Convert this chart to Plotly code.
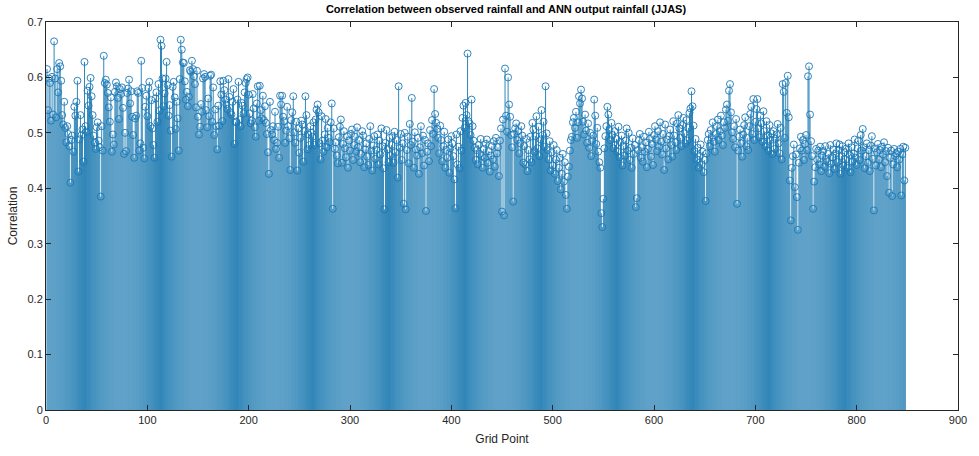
import plotly.graph_objects as go

title_text = "Correlation between observed rainfall and ANN output rainfall (JJAS)"
x_label = "Grid Point"
y_label = "Correlation"

x_ticks = [0, 100, 200, 300, 400, 500, 600, 700, 800, 900]
y_ticks = [0, 0.1, 0.2, 0.3, 0.4, 0.5, 0.6, 0.7]
y_tick_labels = ["0", "0.1", "0.2", "0.3", "0.4", "0.5", "0.6", "0.7"]

correlation = [
    0.615, 0.541, 0.598, 0.590, 0.522, 0.601, 0.533, 0.665, 0.598, 0.528, 0.615, 0.573, 0.626, 0.620, 0.594, 0.532, 0.515, 0.556, 0.509, 0.483,
    0.512, 0.498, 0.476, 0.410, 0.487, 0.495, 0.466, 0.547, 0.531, 0.556, 0.594, 0.430, 0.488, 0.532, 0.496, 0.506, 0.448, 0.628, 0.512, 0.502,
    0.576, 0.549, 0.583, 0.599, 0.566, 0.532, 0.495, 0.482, 0.471, 0.510, 0.519, 0.486, 0.474, 0.385, 0.512, 0.468, 0.639, 0.590, 0.596, 0.587,
    0.572, 0.546, 0.520, 0.564, 0.466, 0.497, 0.479, 0.574, 0.591, 0.584, 0.563, 0.525, 0.579, 0.570, 0.582, 0.545, 0.462, 0.500, 0.467, 0.572,
    0.580, 0.596, 0.553, 0.575, 0.529, 0.496, 0.455, 0.526, 0.531, 0.575, 0.572, 0.468, 0.481, 0.630, 0.581, 0.473, 0.454, 0.547, 0.567, 0.530,
    0.581, 0.592, 0.512, 0.559, 0.508, 0.478, 0.455, 0.562, 0.573, 0.520, 0.588, 0.540, 0.668, 0.657, 0.598, 0.548, 0.571, 0.598, 0.628, 0.586,
    0.531, 0.550, 0.504, 0.457, 0.583, 0.592, 0.564, 0.507, 0.556, 0.526, 0.468, 0.597, 0.668, 0.650, 0.627, 0.626, 0.593, 0.560, 0.574, 0.548,
    0.565, 0.613, 0.610, 0.630, 0.615, 0.602, 0.588, 0.546, 0.612, 0.529, 0.497, 0.511, 0.552, 0.538, 0.598, 0.606, 0.601, 0.541, 0.510, 0.562,
    0.530, 0.603, 0.605, 0.520, 0.582, 0.496, 0.542, 0.512, 0.470, 0.549, 0.513, 0.593, 0.569, 0.521, 0.594, 0.577, 0.560, 0.551, 0.543, 0.597,
    0.565, 0.537, 0.533, 0.556, 0.579, 0.480, 0.520, 0.519, 0.560, 0.592, 0.524, 0.512, 0.554, 0.549, 0.535, 0.573, 0.590, 0.597, 0.600, 0.569,
    0.535, 0.517, 0.522, 0.570, 0.544, 0.510, 0.493, 0.553, 0.584, 0.522, 0.585, 0.541, 0.526, 0.567, 0.523, 0.548, 0.518, 0.498, 0.465, 0.426,
    0.556, 0.505, 0.497, 0.512, 0.487, 0.538, 0.471, 0.482, 0.511, 0.455, 0.567, 0.551, 0.567, 0.529, 0.521, 0.482, 0.504, 0.547, 0.512, 0.490,
    0.433, 0.523, 0.537, 0.566, 0.501, 0.482, 0.520, 0.432, 0.508, 0.464, 0.491, 0.522, 0.515, 0.448, 0.503, 0.566, 0.532, 0.470, 0.497, 0.478,
    0.512, 0.500, 0.493, 0.519, 0.478, 0.524, 0.542, 0.551, 0.537, 0.481, 0.452, 0.530, 0.486, 0.466, 0.497, 0.525, 0.474, 0.509, 0.491, 0.483,
    0.519, 0.553, 0.363, 0.508, 0.471, 0.483, 0.459, 0.445, 0.492, 0.511, 0.524, 0.446, 0.480, 0.503, 0.472, 0.456, 0.494, 0.437, 0.486, 0.468,
    0.498, 0.506, 0.451, 0.478, 0.493, 0.466, 0.510, 0.474, 0.487, 0.447, 0.462, 0.503, 0.495, 0.438, 0.470, 0.481, 0.457, 0.442, 0.489, 0.512,
    0.468, 0.432, 0.477, 0.494, 0.453, 0.469, 0.497, 0.443, 0.486, 0.461, 0.508, 0.476, 0.436, 0.362, 0.482, 0.505, 0.470, 0.447, 0.491, 0.459,
    0.478, 0.494, 0.446, 0.502, 0.465, 0.487, 0.419, 0.584, 0.473, 0.498, 0.451, 0.481, 0.372, 0.500, 0.362, 0.469, 0.493, 0.445, 0.516, 0.478,
    0.563, 0.484, 0.437, 0.501, 0.470, 0.459, 0.491, 0.426, 0.474, 0.512, 0.463, 0.495, 0.441, 0.487, 0.359, 0.466, 0.481, 0.449, 0.505, 0.476,
    0.523, 0.498, 0.579, 0.534, 0.518, 0.507, 0.491, 0.463, 0.513, 0.487, 0.449, 0.476, 0.502, 0.437, 0.469, 0.455, 0.488, 0.428, 0.472, 0.494,
    0.481, 0.458, 0.416, 0.364, 0.497, 0.443, 0.475, 0.436, 0.503, 0.468, 0.527, 0.549, 0.509, 0.554, 0.532, 0.643, 0.521, 0.517, 0.496, 0.560,
    0.512, 0.486, 0.473, 0.451, 0.469, 0.443, 0.478, 0.462, 0.489, 0.458, 0.437, 0.471, 0.455, 0.480, 0.488, 0.446, 0.467, 0.430, 0.459, 0.476,
    0.452, 0.485, 0.439, 0.491, 0.463, 0.474, 0.422, 0.486, 0.508, 0.358, 0.524, 0.351, 0.616, 0.531, 0.502, 0.600, 0.551, 0.529, 0.496, 0.474,
    0.376, 0.498, 0.508, 0.517, 0.487, 0.503, 0.463, 0.481, 0.512, 0.495, 0.446, 0.476, 0.443, 0.489, 0.431, 0.469, 0.452, 0.493, 0.447, 0.518,
    0.506, 0.466, 0.494, 0.530, 0.472, 0.511, 0.458, 0.488, 0.541, 0.496, 0.520, 0.475, 0.584, 0.499, 0.469, 0.452, 0.485, 0.432, 0.465, 0.441,
    0.478, 0.426, 0.452, 0.469, 0.413, 0.437, 0.455, 0.398, 0.426, 0.462, 0.412, 0.447, 0.388, 0.363, 0.421, 0.439, 0.468, 0.487, 0.493, 0.519,
    0.527, 0.509, 0.538, 0.491, 0.519, 0.566, 0.553, 0.578, 0.562, 0.520, 0.497, 0.533, 0.504, 0.482, 0.517, 0.473, 0.500, 0.458, 0.486, 0.495,
    0.560, 0.531, 0.480, 0.509, 0.466, 0.447, 0.437, 0.355, 0.330, 0.381, 0.472, 0.494, 0.512, 0.547, 0.533, 0.505, 0.487, 0.518, 0.496, 0.472,
    0.503, 0.478, 0.489, 0.466, 0.511, 0.456, 0.483, 0.495, 0.441, 0.476, 0.459, 0.486, 0.508, 0.468, 0.500, 0.451, 0.473, 0.437, 0.490, 0.462,
    0.478, 0.366, 0.382, 0.469, 0.487, 0.498, 0.455, 0.474, 0.448, 0.493, 0.466, 0.483, 0.438, 0.471, 0.502, 0.489, 0.457, 0.480, 0.442, 0.496,
    0.512, 0.488, 0.467, 0.503, 0.475, 0.519, 0.484, 0.461, 0.498, 0.433, 0.515, 0.472, 0.488, 0.452, 0.494, 0.506, 0.478, 0.457, 0.521, 0.495,
    0.483, 0.469, 0.517, 0.532, 0.508, 0.491, 0.476, 0.514, 0.527, 0.499, 0.481, 0.523, 0.486, 0.509, 0.536, 0.544, 0.575, 0.548, 0.513, 0.467,
    0.489, 0.452, 0.473, 0.437, 0.458, 0.479, 0.443, 0.466, 0.429, 0.451, 0.377, 0.463, 0.487, 0.498, 0.476, 0.505, 0.491, 0.519, 0.484, 0.466,
    0.498, 0.512, 0.524, 0.487, 0.503, 0.531, 0.495, 0.478, 0.519, 0.509, 0.542, 0.551, 0.522, 0.576, 0.588, 0.537, 0.501, 0.489, 0.512, 0.474,
    0.525, 0.372, 0.468, 0.493, 0.506, 0.481, 0.457, 0.497, 0.514, 0.528, 0.476, 0.491, 0.469, 0.512, 0.534, 0.547, 0.498, 0.561, 0.487, 0.520,
    0.543, 0.561, 0.508, 0.492, 0.531, 0.517, 0.484, 0.539, 0.503, 0.476, 0.521, 0.495, 0.468, 0.514, 0.487, 0.499, 0.462, 0.503, 0.471, 0.489,
    0.497, 0.516, 0.481, 0.463, 0.509, 0.452, 0.588, 0.574, 0.491, 0.590, 0.536, 0.603, 0.528, 0.414, 0.342, 0.437, 0.458, 0.479, 0.402, 0.461,
    0.384, 0.325, 0.446, 0.472, 0.493, 0.468, 0.487, 0.451, 0.480, 0.496, 0.469, 0.602, 0.620, 0.533, 0.485, 0.458, 0.363, 0.412, 0.438, 0.471,
    0.452, 0.468, 0.443, 0.475, 0.431, 0.459, 0.467, 0.439, 0.476, 0.453, 0.448, 0.462, 0.427, 0.478, 0.444, 0.456, 0.470, 0.435, 0.462, 0.481,
    0.447, 0.469, 0.479, 0.426, 0.458, 0.476, 0.441, 0.465, 0.452, 0.472, 0.437, 0.481, 0.460, 0.429, 0.474, 0.448, 0.463, 0.488, 0.455, 0.442,
    0.472, 0.486, 0.451, 0.496, 0.468, 0.507, 0.474, 0.436, 0.458, 0.481, 0.446, 0.469, 0.431, 0.477, 0.494, 0.453, 0.360, 0.472, 0.441, 0.465,
    0.480, 0.452, 0.469, 0.438, 0.475, 0.461, 0.483, 0.447, 0.467, 0.422, 0.473, 0.392, 0.455, 0.468, 0.386, 0.443, 0.471, 0.458, 0.463, 0.438,
    0.466, 0.452, 0.471, 0.387, 0.461, 0.475, 0.414, 0.473,
]

grid_points = list(range(1, len(correlation) + 1))

stem_color = "#1a78b0"
marker_color = "#1a78b8"

# stems: one segment per point, from 0 up to the value
stem_x, stem_y = [], []
for gx, gy in zip(grid_points, correlation):
    stem_x += [gx, gx, None]
    stem_y += [0, gy, None]

fig = go.Figure()
fig.add_trace(go.Scatter(
    x=stem_x, y=stem_y, mode="lines",
    line=dict(color=stem_color, width=0.9),
    hoverinfo="skip", showlegend=False,
))
fig.add_trace(go.Scatter(
    x=grid_points, y=correlation, mode="markers",
    marker=dict(symbol="circle-open", size=7, color=marker_color,
                line=dict(width=0.9, color=marker_color)),
    showlegend=False,
))

axis_font = dict(family="Liberation Sans, Arial, sans-serif", size=11, color="#262626")

fig.update_layout(
    width=979, height=456,
    margin=dict(l=45, r=12, t=22, b=45),
    paper_bgcolor="white", plot_bgcolor="white",
    title=dict(text="<b>" + title_text + "</b>", x=(45 + 967) / 2 / 979, xanchor="center",
               y=1 - 9 / 456, yanchor="middle",
               font=dict(family="Liberation Sans, Arial, sans-serif", size=11, color="black")),
    font=axis_font,
)
fig.update_xaxes(
    range=[0, 900], tickvals=x_ticks, ticks="inside", ticklen=5, tickcolor="#262626",
    showline=True, linecolor="#262626", linewidth=1, mirror="ticks",
    showgrid=False, zeroline=False,
    title=dict(text=x_label, font=dict(family="Liberation Sans, Arial, sans-serif", size=12, color="#262626"), standoff=9),
    tickfont=axis_font,
)
fig.update_yaxes(
    range=[0, 0.7], tickvals=y_ticks, ticktext=y_tick_labels, ticks="inside", ticklen=5,
    tickcolor="#262626",
    showline=True, linecolor="#262626", linewidth=1, mirror="ticks",
    showgrid=False, zeroline=False,
    title=dict(text=y_label, font=dict(family="Liberation Sans, Arial, sans-serif", size=12, color="#262626"), standoff=7),
    tickfont=axis_font,
)

fig.write_html("out.html")
